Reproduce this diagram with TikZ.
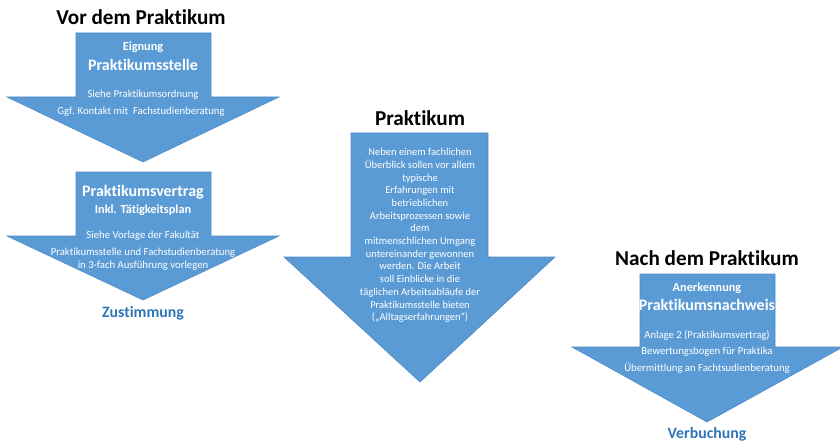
\documentclass[tikz,border=0pt]{standalone}
\usepackage{fontspec}
\setmainfont[Ligatures=NoCommon]{Carlito}
\definecolor{arrowblue}{HTML}{5B9BD5}
\definecolor{arrowedge}{HTML}{4E8BC6}
\definecolor{labelblue}{HTML}{2E75B6}
\tikzset{
  arrowshape/.style={fill=arrowblue,draw=arrowedge,line width=0.6pt,line join=miter},
  heading/.style={font=\bfseries\fontsize{21.2}{25}\selectfont,text=black,inner sep=0pt},
  smallbold/.style={font=\bfseries\fontsize{12.3}{14}\selectfont,text=white,inner sep=0pt},
  bigbold/.style={font=\bfseries\fontsize{16}{18}\selectfont,text=white,inner sep=0pt},
  body/.style={font=\fontsize{10.7}{13}\selectfont,text=white,inner sep=0pt,align=center},
  result/.style={font=\bfseries\fontsize{15.8}{18}\selectfont,text=labelblue,inner sep=0pt}
}
\begin{document}
\begin{tikzpicture}[x=1pt,y=-1pt]
\useasboundingbox (0,0) rectangle (840,441);
% arrows
\draw[arrowshape] (76,33) -- (211,33) -- (211,97) -- (279,97) -- (143,162) -- (7,97) -- (76,97) -- cycle;
\draw[arrowshape] (76,172) -- (211,172) -- (211,236) -- (279,236) -- (143,300) -- (7,236) -- (76,236) -- cycle;
\draw[arrowshape] (351,133) -- (488,133) -- (488,257) -- (555,257) -- (420,382) -- (284,257) -- (351,257) -- cycle;
\draw[arrowshape] (640,274) -- (775,274) -- (775,347) -- (843,347) -- (707,422) -- (572,347) -- (640,347) -- cycle;
% headings
\node[heading] (h1) at (141,17) {Vor dem Praktikum};
\node[heading] (h2) at (420,118) {Praktikum};
\node[heading] (h3) at (707,258) {Nach dem Praktikum};
% arrow 1
\node[smallbold] (a1) at (143,47) {Eignung};
\node[bigbold] (a2) at (143,65) {Praktikumsstelle};
\node[body] (a3) at (143,95) {Siehe Praktikumsordnung};
\node[body] (a4) at (141,112) {Ggf. Kontakt mit\ \ Fachstudienberatung};
% arrow 2
\node[bigbold] (b1) at (143,192) {Praktikumsvertrag};
\node[smallbold] (b2) at (143,210) {Inkl. Tätigkeitsplan};
\node[body] (b3) at (143,236) {Siehe Vorlage der Fakultät};
\node[body] (b4) at (143,259.5) {Praktikumsstelle und Fachstudienberatung\\in 3-fach Ausführung vorlegen};
\node[result] (b5) at (143,313) {Zustimmung};
% arrow 3
\node[body,font=\fontsize{10.5}{12.7}\selectfont] (c1) at (420,235.5) {Neben einem fachlichen\\Überblick sollen vor allem\\typische\\Erfahrungen mit\\betrieblichen\\Arbeitsprozessen sowie\\dem\\mitmenschlichen Umgang\\untereinander gewonnen\\werden. Die Arbeit\\soll Einblicke in die\\täglichen Arbeitsabläufe der\\Praktikumsstelle bieten\\(„Alltagserfahrungen“)};
% arrow 4
\node[smallbold] (d1) at (707,288) {Anerkennung};
\node[bigbold] (d2) at (707,305) {Praktikumsnachweis};
\node[body] (d3) at (707,336) {Anlage 2 (Praktikumsvertrag)};
\node[body] (d4) at (707,352) {Bewertungsbogen für Praktika};
\node[body] (d5) at (707,368) {Übermittlung an Fachtsudienberatung};
\node[result] (d6) at (707,434) {Verbuchung};
\end{tikzpicture}
\end{document}
